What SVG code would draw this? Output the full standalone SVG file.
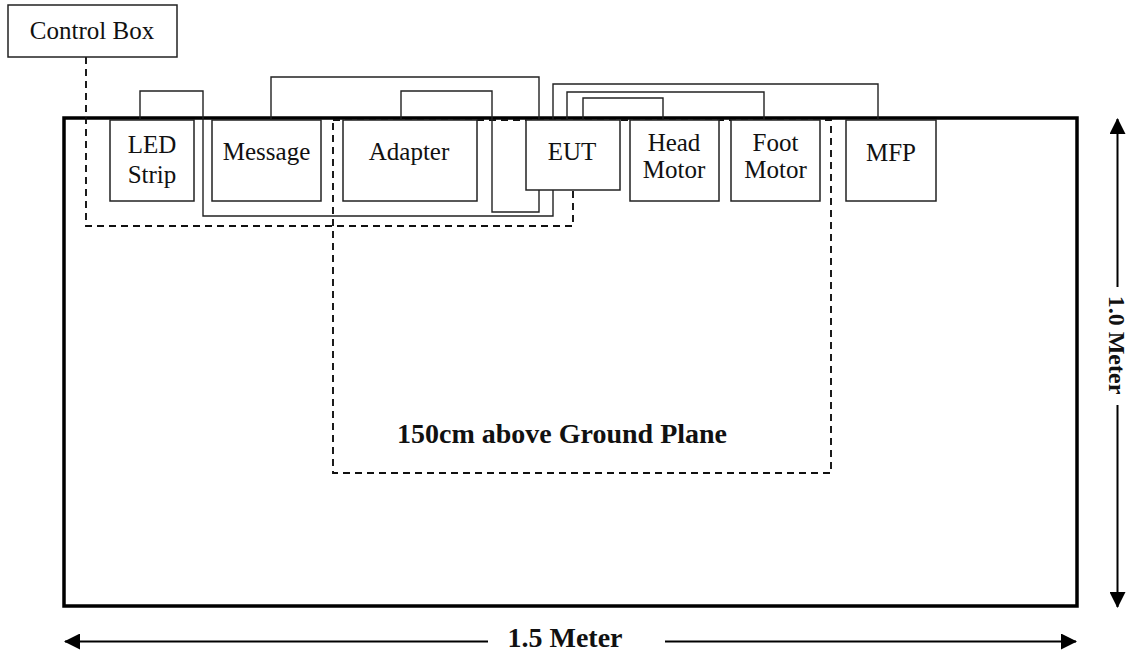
<svg xmlns="http://www.w3.org/2000/svg" width="1130" height="652" viewBox="0 0 1130 652">
<defs>
<style>
.box{fill:#fff;stroke:#222;stroke-width:1.5}
.wire{fill:none;stroke:#222;stroke-width:1.4}
.dash{fill:none;stroke:#111;stroke-width:1.9;stroke-dasharray:7,5}
.lbl{font-family:"Liberation Serif","Times New Roman",serif;font-size:25px;fill:#111;text-anchor:middle}
.bold{font-family:"Liberation Serif","Times New Roman",serif;font-weight:bold;fill:#111;text-anchor:middle}
.dim{stroke:#000;stroke-width:2;fill:none}
</style>
<marker id="ah" viewBox="0 0 16 16" refX="15" refY="8" markerWidth="16" markerHeight="16" markerUnits="userSpaceOnUse" orient="auto-start-reverse">
<path d="M0,0 L16,8 L0,16 Z" fill="#000"/>
</marker>
</defs>
<g id="ground-plane">
<rect x="64" y="118" width="1013" height="488" fill="#fff" stroke="#000" stroke-width="3.5"/>
</g>
<g id="table-area">
<rect class="dash" x="333" y="120" width="498" height="353"/>
<text class="bold" x="562" y="443" font-size="28">150cm above Ground Plane</text>
</g>
<g id="connectors">
<path class="dash" d="M86,57 V226 H573 V190"/>
<path class="wire" d="M140,120 V91 H203 V216 H553 V84 H878 V120"/>
<path class="wire" d="M271,119 V77 H539 V212 H492 V91 H401 V120"/>
<path class="wire" d="M567,120 V92 H764 V120"/>
<path class="wire" d="M583,120 V98 H663 V120"/>
</g>
<g id="control-box">
<rect class="box" x="8" y="5" width="169" height="52"/>
<text class="lbl" x="92" y="39">Control Box</text>
</g>
<g id="led-strip">
<rect class="box" x="110" y="120" width="84" height="81"/>
<text class="lbl" x="152" y="153">LED</text>
<text class="lbl" x="152" y="183">Strip</text>
</g>
<g id="message">
<rect class="box" x="212" y="120" width="109" height="81"/>
<text class="lbl" x="266.5" y="160">Message</text>
</g>
<g id="adapter">
<rect class="box" x="343" y="120" width="134" height="81"/>
<text class="lbl" x="409" y="160">Adapter</text>
</g>
<g id="eut">
<rect class="box" x="526" y="120" width="94" height="70"/>
<text class="lbl" x="572" y="160">EUT</text>
</g>
<g id="head-motor">
<rect class="box" x="630" y="120" width="89" height="81"/>
<text class="lbl" x="674" y="151">Head</text>
<text class="lbl" x="674" y="178">Motor</text>
</g>
<g id="foot-motor">
<rect class="box" x="731" y="120" width="89" height="81"/>
<text class="lbl" x="775.5" y="151">Foot</text>
<text class="lbl" x="775.5" y="178">Motor</text>
</g>
<g id="mfp">
<rect class="box" x="846" y="120" width="90" height="81"/>
<text class="lbl" x="891" y="161">MFP</text>
</g>
<g id="dimensions">
<line class="dim" x1="1117.5" y1="287" x2="1117.5" y2="119" marker-end="url(#ah)"/>
<line class="dim" x1="1117.5" y1="405" x2="1117.5" y2="607" marker-end="url(#ah)"/>
<text class="bold" font-size="24" transform="translate(1109,345) rotate(90)">1.0 Meter</text>
<line class="dim" x1="488" y1="641.5" x2="65" y2="641.5" marker-end="url(#ah)"/>
<line class="dim" x1="665" y1="641.5" x2="1076" y2="641.5" marker-end="url(#ah)"/>
<text class="bold" x="565" y="647" font-size="28">1.5 Meter</text>
</g>
</svg>
